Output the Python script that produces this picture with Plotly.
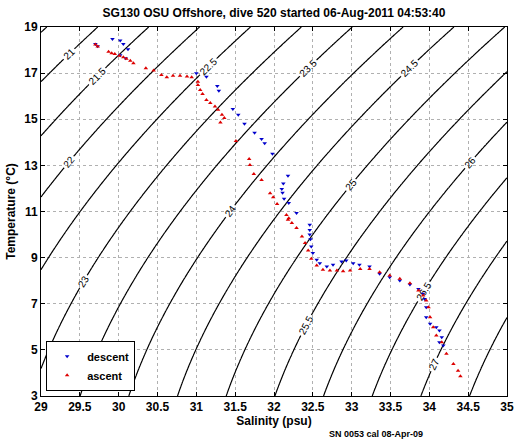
import numpy as np
import plotly.graph_objects as go

# ---- data ----
descent_S = [29.70, 29.73, 29.92, 30.02, 30.06, 30.12, 30.09, 30.02, 31.00, 31.13,
             31.27, 31.29, 31.47, 31.54, 31.62, 31.75, 31.84, 31.88, 31.98,
             32.18, 32.12, 32.10, 32.11, 32.13, 32.19, 32.29,
             32.46, 32.46, 32.46, 32.47, 32.48, 32.50, 32.55, 32.59, 32.68, 32.76, 32.87, 32.93,
             33.02, 33.10, 33.23, 33.36, 33.49, 33.62, 33.75, 33.86, 33.92, 33.94, 33.96,
             33.96, 34.01, 34.09, 34.13, 34.16, 34.13, 34.18]
descent_T = [18.26, 18.17, 18.48, 18.41, 18.26, 18.03, 17.64, 17.78, 16.99, 16.84,
             16.44, 16.24, 15.44, 15.19, 14.80, 14.42, 14.14, 13.96, 13.50,
             12.55, 12.21, 11.98, 11.81, 11.55, 11.37, 10.93,
             10.43, 10.20, 10.00, 9.80, 9.48, 9.20, 8.91, 8.76, 8.62, 8.69, 8.83, 8.87,
             8.76, 8.69, 8.62, 8.30, 8.15, 8.01, 7.83, 7.64, 7.43, 7.21, 6.85,
             6.42, 6.13, 5.98, 5.84, 5.55, 5.33, 5.19]

ascent_S = [29.70, 29.73, 29.87, 29.91, 29.95, 30.01, 30.06, 30.10, 30.15, 30.19,
            30.35, 30.45, 30.55, 30.62, 30.70, 30.79, 30.88, 30.94, 31.02, 31.02,
            31.05, 31.08, 31.13, 31.18, 31.24, 31.28, 31.33, 31.36, 31.31, 31.51,
            31.68, 31.69, 31.74, 31.84, 31.95, 31.99, 32.04, 32.16, 32.19, 32.18,
            32.23, 32.29, 32.36, 32.40, 32.44, 32.48, 32.55, 32.63, 32.72, 32.81,
            32.89, 32.98, 33.11, 33.23, 33.36, 33.49, 33.62, 33.75, 33.86, 33.92,
            33.96, 33.99, 34.01, 34.05, 34.09, 34.16, 34.22, 34.31, 34.37, 34.40]
ascent_T = [18.24, 18.15, 17.93, 17.86, 17.83, 17.75, 17.69, 17.62, 17.54, 17.43,
            17.21, 17.11, 16.92, 16.82, 16.89, 16.89, 16.85, 16.82, 16.63, 16.49,
            16.27, 16.10, 15.84, 15.70, 15.55, 15.41, 15.19, 15.05, 14.86, 14.06,
            13.28, 13.02, 12.63, 12.37, 11.79, 11.62, 11.33, 10.85, 10.71, 10.64,
            10.50, 10.28, 9.92, 9.63, 9.31, 8.95, 8.66, 8.47, 8.44, 8.44,
            8.41, 8.44, 8.51, 8.51, 8.37, 8.22, 8.08, 7.89, 7.57, 7.36,
            7.14, 6.85, 6.42, 5.98, 5.62, 5.33, 4.83, 4.39, 4.10, 3.86]

x_ticks = [29, 29.5, 30, 30.5, 31, 31.5, 32, 32.5, 33, 33.5, 34, 34.5, 35]
y_ticks = [3, 5, 7, 9, 11, 13, 15, 17, 19]

# ---- sigma-theta background (UNESCO EOS-80, p = 0) ----
sg = np.linspace(29, 35, 241)
tg = np.linspace(3, 19, 321)
S, T = np.meshgrid(sg, tg)
rho_w = (999.842594 + 6.793952e-2 * T - 9.095290e-3 * T**2 + 1.001685e-4 * T**3
         - 1.120083e-6 * T**4 + 6.536332e-9 * T**5)
A = 8.24493e-1 - 4.0899e-3 * T + 7.6438e-5 * T**2 - 8.2467e-7 * T**3 + 5.3875e-9 * T**4
B = -5.72466e-3 + 1.0227e-4 * T - 1.6546e-6 * T**2
C = 4.8314e-4
sigma = rho_w + A * S + B * S**1.5 + C * S**2 - 1000.0

fig = go.Figure()
fig.add_trace(go.Contour(
    x=sg, y=tg, z=sigma,
    contours=dict(start=20.5, end=28, size=0.5, coloring="lines", showlabels=True,
                  labelfont=dict(size=10, color="black", family="Arial")),
    colorscale=[[0, "black"], [1, "black"]], showscale=False,
    line=dict(width=1.2), hoverinfo="skip", showlegend=False,
))
fig.add_trace(go.Scatter(
    x=descent_S, y=descent_T, mode="markers", name="descent",
    marker=dict(symbol="triangle-down", size=4, color="#0000cc"),
))
fig.add_trace(go.Scatter(
    x=ascent_S, y=ascent_T, mode="markers", name="ascent",
    marker=dict(symbol="triangle-up", size=4, color="#dd0000"),
))

axis_common = dict(
    showline=True, linecolor="black", linewidth=1, mirror="allticks",
    ticks="inside", ticklen=4, tickcolor="black",
    showgrid=True, gridcolor="#b0b0b0", griddash="dot", gridwidth=1,
    zeroline=False, automargin=False,
    tickfont=dict(family="Arial", size=12, color="black", weight="bold"),
)

fig.update_layout(
    width=519, height=442,
    margin=dict(l=41, r=12, t=27, b=46, autoexpand=False),
    paper_bgcolor="white", plot_bgcolor="white",
    title=dict(text="<b>SG130 OSU Offshore, dive 520 started 06-Aug-2011 04:53:40</b>",
               x=(41 + 233) / 519, xanchor="center", y=1 - 13 / 442, yanchor="middle",
               font=dict(family="Arial", size=12, color="black"), automargin=False),
    xaxis=dict(range=[29, 35], tickvals=x_ticks, ticktext=[f"{v:g}" for v in x_ticks],
               title=dict(text="<b>Salinity (psu)</b>", standoff=2,
                          font=dict(family="Arial", size=12, color="black")),
               **axis_common),
    yaxis=dict(range=[3, 19], tickvals=y_ticks,
               title=dict(text="<b>Temperature (°C)</b>", standoff=6,
                          font=dict(family="Arial", size=12, color="black")),
               **axis_common),
    legend=dict(x=0.011, y=0.014, xanchor="left", yanchor="bottom",
                bgcolor="white", bordercolor="black", borderwidth=1,
                font=dict(family="Arial", size=11, color="black", weight="bold"),
                itemsizing="trace", itemwidth=30, tracegroupgap=0),
    annotations=[dict(text="<b>SN 0053 cal 08-Apr-09</b>", xref="paper", yref="paper",
                      x=(327 - 41) / 466, y=-(434 - 396) / 369, xanchor="left", yanchor="middle",
                      showarrow=False, font=dict(family="Arial", size=9, color="black"))],
)

fig.write_html("out.html", config={"displayModeBar": False},
               post_script="document.body.style.margin='0';")
